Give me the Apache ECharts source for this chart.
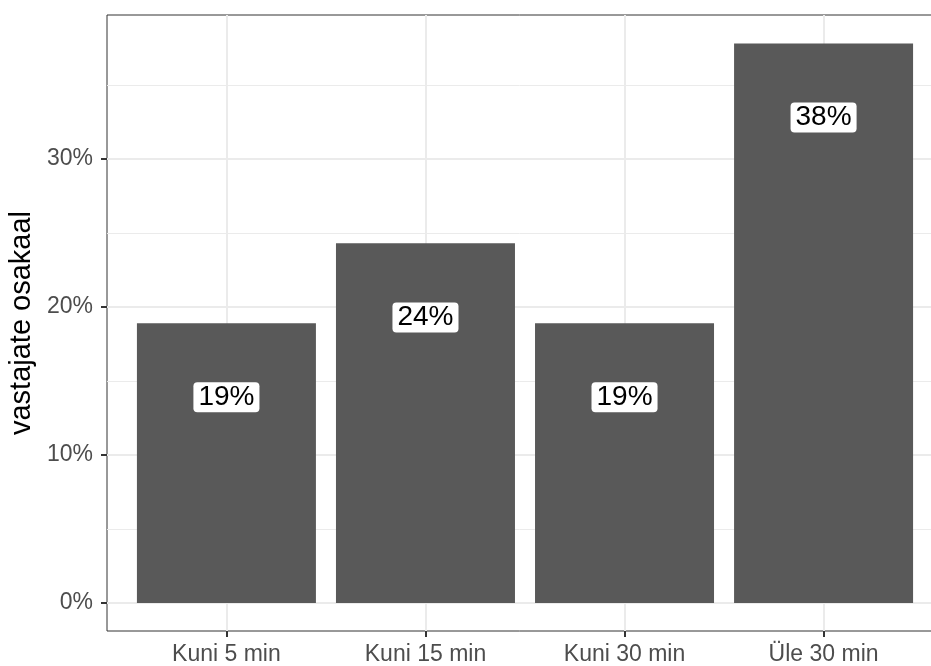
<!DOCTYPE html>
<html>
<head>
<meta charset="utf-8">
<script src="https://cdn.jsdelivr.net/npm/echarts@6/dist/echarts.min.js"></script>
<style>
html,body{margin:0;padding:0;background:#fff;}
#chart{width:931px;height:666px;}
</style>
</head>
<body>
<div id="chart"></div>
<script>
// Data
const categories = ['Kuni 5 min', 'Kuni 15 min', 'Kuni 30 min', 'Üle 30 min'];
const shares = [0.189, 0.243, 0.189, 0.378];
const yTicks = [0, 0.1, 0.2, 0.3];
const yMinorTicks = [0.05, 0.15, 0.25, 0.35];
const yTitle = 'vastajate osakaal';
const labelNudge = 0.05;

const xPos = categories.map((c, i) => i + 1);
const barData = shares.map((v, i) => [xPos[i], v]);
const labelData = shares.map((v, i) => [xPos[i], v - labelNudge]);
const fmtPct = v => Math.round(v * 100) + '%';

const chart = echarts.init(document.getElementById('chart'));
const FONT = 'Liberation Sans, Arial, sans-serif';
chart.setOption({
  animation: false,
  backgroundColor: '#ffffff',
  grid: {
    left: 107, right: -12, top: 15, bottom: 35,
    show: true, borderColor: '#333333', borderWidth: 1, backgroundColor: 'transparent',
    containLabel: false, outerBoundsMode: 'none'
  },
  xAxis: {
    type: 'value', min: 0.4, max: 4.6,
    axisLine: { show: false, onZero: false },
    axisTick: { show: true, length: 6, lineStyle: { color: '#333333', width: 2 }, customValues: xPos },
    axisLabel: {
      customValues: xPos, margin: 12, color: '#4d4d4d', fontSize: 23, fontFamily: FONT,
      formatter: v => categories[Math.round(v) - 1] || ''
    },
    splitLine: { show: true, lineStyle: { color: '#ebebeb', width: 2 } }
  },
  yAxis: [{
    type: 'value', min: -0.0189, max: 0.3973,
    name: yTitle, nameLocation: 'middle', nameGap: 70,
    nameTextStyle: { color: '#000000', fontSize: 29, fontFamily: FONT },
    axisLine: { show: false, onZero: false },
    axisTick: { show: true, length: 6, lineStyle: { color: '#333333', width: 2 }, customValues: yTicks },
    axisLabel: { customValues: yTicks, margin: 14, color: '#4d4d4d', fontSize: 23, fontFamily: FONT, formatter: fmtPct },
    splitLine: { show: true, lineStyle: { color: '#ebebeb', width: 2 } }
  }, {
    type: 'value', min: -0.0189, max: 0.3973, position: 'left',
    axisLine: { show: false, onZero: false },
    axisTick: { show: false, customValues: yMinorTicks },
    axisLabel: { show: false, customValues: yMinorTicks },
    splitLine: { show: true, lineStyle: { color: '#ebebeb', width: 1 } }
  }],
  series: [{
    type: 'bar',
    data: barData,
    barWidth: 179,
    itemStyle: { color: '#595959' },
    z: 2
  }, {
    type: 'scatter',
    data: labelData,
    symbolSize: 1,
    itemStyle: { color: 'rgba(0,0,0,0)', opacity: 1 },
    z: 5,
    label: {
      show: true, position: 'inside', opacity: 1,
      formatter: p => fmtPct(shares[p.dataIndex]),
      color: '#000000', fontSize: 28, fontFamily: FONT,
      backgroundColor: '#ffffff', borderRadius: 4, padding: [2, 5, 0, 5], lineHeight: 28
    }
  }]
});
</script>
</body>
</html>
